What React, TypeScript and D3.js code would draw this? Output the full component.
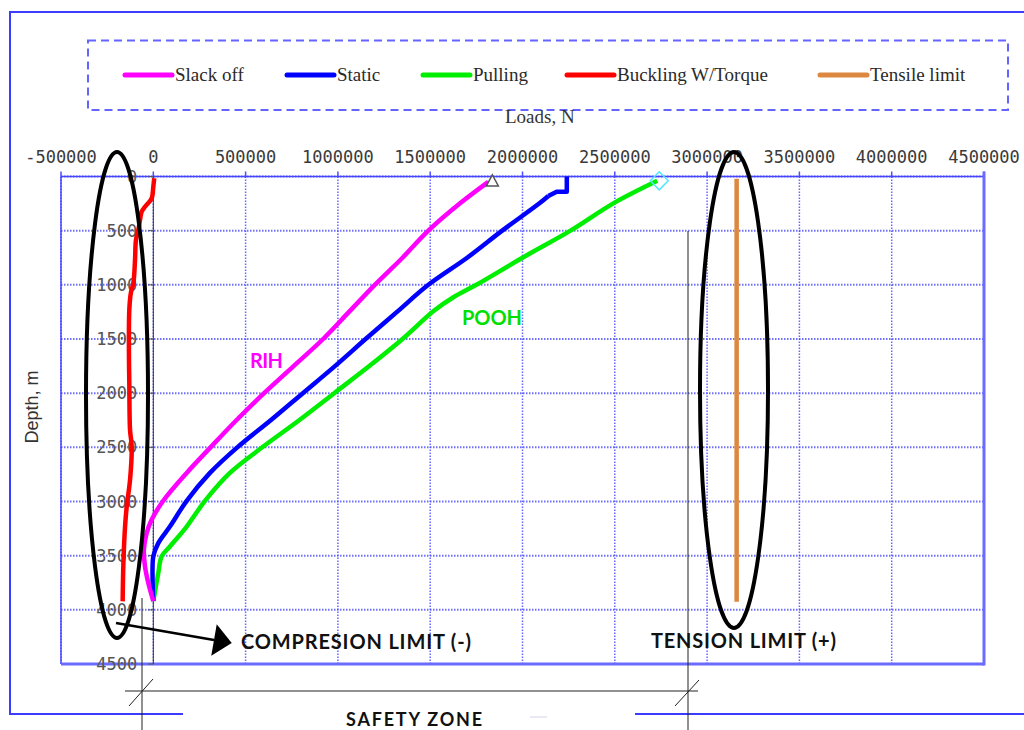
import * as d3 from 'd3'

// [load N, depth m]
const slackOff: [number, number][] = [
  [1815000, 50], [1660000, 250], [1490000, 500], [1350000, 750], [1200000, 1000],
  [1060000, 1250], [920000, 1500], [760000, 1750], [600000, 2000], [450000, 2250],
  [310000, 2500], [181000, 2736], [51000, 3000], [-9000, 3169], [-36000, 3292],
  [-51000, 3445], [-45000, 3600], [-27000, 3753], [0, 3920],
]
const staticLoad: [number, number][] = [
  [2240000, 0], [2240000, 140], [2185000, 140], [2140000, 180], [2090000, 250],
  [1890000, 500], [1700000, 750], [1490000, 1000], [1320000, 1250], [1150000, 1500],
  [984000, 1750], [810000, 2000], [636000, 2250], [455000, 2500], [307000, 2736],
  [181000, 2994], [90000, 3231], [27000, 3384], [0, 3507], [0, 3920],
]
const pulling: [number, number][] = [
  [2730000, 40], [2490000, 250], [2260000, 500], [2000000, 750], [1750000, 1000],
  [1630000, 1110], [1520000, 1240], [1350000, 1500], [1170000, 1750], [980000, 2000],
  [790000, 2250], [590000, 2500], [415000, 2736], [280000, 2994], [181000, 3231],
  [90000, 3415], [45000, 3507], [27000, 3661], [0, 3920],
]
const buckling: [number, number][] = [
  [5000, 17], [0, 94], [-9000, 201], [-45000, 279], [-63000, 325], [-72000, 401],
  [-81000, 494], [-94000, 586], [-99000, 770], [-108000, 985], [-122000, 1078],
  [-130000, 1232], [-132000, 1601], [-130000, 1908], [-126000, 2340], [-117000, 2492],
  [-126000, 2800], [-144000, 3046], [-153000, 3231], [-162000, 3566], [-166000, 3922],
]
const tensile: [number, number][] = [[3160000, 20], [3160000, 3925]]

const X_TICKS = [-500000, 0, 500000, 1000000, 1500000, 2000000, 2500000, 3000000, 3500000, 4000000, 4500000]
const Y_TICKS = [0, 500, 1000, 1500, 2000, 2500, 3000, 3500, 4000, 4500]

const LEGEND = [
  { name: 'Slack off',         color: '#ff00ff', x: 125 },
  { name: 'Static',            color: '#0000ff', x: 287 },
  { name: 'Pulling',           color: '#00ee00', x: 423 },
  { name: 'Buckling W/Torque', color: '#ff0000', x: 567 },
  { name: 'Tensile limit',     color: '#dd8840', x: 820 },
]

const W = 1024
const H = 730
const PLOT = { left: 61, right: 984, top: 176.5, bottom: 664 }
const GRID = '#4d4dff'
const SANS = 'Lato, "Open Sans", sans-serif'
const MONO = '"DejaVu Sans Mono", monospace'
const SERIF = '"Liberation Serif", "DejaVu Serif", serif'

export default function App() {
  const x = d3.scaleLinear().domain([-500000, 4500000]).range([PLOT.left, PLOT.right])
  const y = d3.scaleLinear().domain([0, 4500]).range([PLOT.top, PLOT.bottom])
  const smooth = d3.line<[number, number]>().x(d => x(d[0])).y(d => y(d[1])).curve(d3.curveCatmullRom.alpha(0.5))
  const straight = d3.line<[number, number]>().x(d => x(d[0])).y(d => y(d[1]))

  // static has a little step at the top, keep that part straight
  const series = [
    { d: smooth(buckling),                 color: '#ff0000' },
    { d: straight(tensile),                color: '#dd8840' },
    { d: smooth(pulling),                  color: '#00ee00' },
    { d: straight(staticLoad.slice(0, 4)), color: '#0000ff' },
    { d: smooth(staticLoad.slice(3)),      color: '#0000ff' },
    { d: smooth(slackOff),                 color: '#ff00ff' },
  ]

  const triX = x(slackOff[0][0]) + 4
  const triY = y(slackOff[0][1])
  const diaX = x(pulling[0][0]) + 2
  const diaY = y(pulling[0][1])

  // arrow head for compression annotation
  const ax0 = 116, ay0 = 623, ax1 = 214, ay1 = 640
  const len = Math.hypot(ax1 - ax0, ay1 - ay0)
  const ux = (ax1 - ax0) / len, uy = (ay1 - ay0) / len
  const head = [
    [ax1 - uy * 16, ay1 + ux * 16],
    [ax1 + uy * 16, ay1 - ux * 16],
    [ax1 + ux * 18, ay1 + uy * 18],
  ].map(p => p.join(',')).join(' ')

  return (
    <svg width={W} height={H} style={{ position: 'absolute', left: 0, top: 0, background: '#fff' }}>
      {/* outer frame */}
      <path d={`M183,714 H10 V12 H1030 M635,714 H1030`} fill="none" stroke="#3c3cff" strokeWidth={2} />
      <line x1={530} y1={717} x2={547} y2={717} stroke="#e2e2f2" strokeWidth={1.5} />

      {/* legend */}
      <rect x={88} y={40.5} width={920} height={69.5} fill="none" stroke="#6464ff" strokeWidth={2} strokeDasharray="8,5" />
      {LEGEND.map(l => (
        <g key={l.name}>
          <line x1={l.x} y1={75} x2={l.x + 47} y2={75} stroke={l.color} strokeWidth={5} strokeLinecap="round" />
          <text x={l.x + 50} y={81} fontFamily={SERIF} fontSize={19} fill="#2a2a2a">{l.name}</text>
        </g>
      ))}

      <text x={505} y={123} fontFamily={SERIF} fontSize={19} fill="#333">Loads, N</text>

      {/* grid */}
      {X_TICKS.map(t => (
        <g key={'x' + t}>
          <line x1={x(t)} y1={PLOT.top} x2={x(t)} y2={PLOT.bottom} stroke={GRID} strokeWidth={1.5} strokeDasharray="1.5,1.5" opacity={0.85} />
          <line x1={x(t)} y1={PLOT.top - 5} x2={x(t)} y2={PLOT.top} stroke={GRID} strokeWidth={1.5} />
          <text x={x(t)} y={163} textAnchor="middle" fontFamily={MONO} fontSize={17} fill="#3a3a3a">{t}</text>
        </g>
      ))}
      {Y_TICKS.map(t => (
        <line key={'y' + t} x1={PLOT.left} y1={y(t)} x2={PLOT.right} y2={y(t)} stroke={GRID} strokeWidth={2} strokeDasharray="1.5,1.5" opacity={0.8} />
      ))}

      {/* plot frame */}
      <line x1={PLOT.left} y1={PLOT.top} x2={PLOT.right} y2={PLOT.top} stroke="#4545ff" strokeWidth={1.5} />
      <line x1={PLOT.left} y1={PLOT.top} x2={PLOT.left} y2={PLOT.bottom} stroke="#4545ff" strokeWidth={1.5} />
      <line x1={PLOT.right} y1={PLOT.top - 5} x2={PLOT.right} y2={PLOT.bottom + 1.5} stroke="#6b6bff" strokeWidth={3} />
      <line x1={PLOT.left} y1={PLOT.bottom} x2={PLOT.right} y2={PLOT.bottom} stroke="#6b6bff" strokeWidth={3} />

      {/* depth axis at zero load */}
      <line x1={x(0)} y1={PLOT.top} x2={x(0)} y2={PLOT.bottom} stroke="#333" strokeWidth={1} />
      {Y_TICKS.map(t => (
        <g key={'yl' + t}>
          <line x1={x(0) - 5} y1={y(t)} x2={x(0)} y2={y(t)} stroke="#555" strokeWidth={1} />
          <text x={x(0) - 16} y={y(t) + 6} textAnchor="end" fontFamily={MONO} fontSize={17} fill="#555">{t}</text>
        </g>
      ))}
      <text transform="translate(38,407) rotate(-90)" textAnchor="middle" fontFamily='"Liberation Sans", Arial, sans-serif'
        fontSize={18} fill="#333">Depth, m</text>

      {/* series */}
      {series.map((s, i) => (
        <path key={i} d={s.d || ''} fill="none" stroke={s.color} strokeWidth={4.5} strokeLinejoin="round" />
      ))}
      <path d={`M${triX},${triY - 7} L${triX + 6},${triY + 4} L${triX - 6},${triY + 4} Z`} fill="#fff" stroke="#555" strokeWidth={1.5} />
      <path d={`M${diaX},${diaY - 9} L${diaX + 9},${diaY} L${diaX},${diaY + 9} L${diaX - 9},${diaY} Z`} fill="none" stroke="#55e6ff" strokeWidth={1.5} />

      {/* annotations */}
      <text x={250} y={368} fontFamily={SANS} fontWeight="bold" fontSize={20} fill="#ff00ff" textLength={33}>RIH</text>
      <text x={462} y={325} fontFamily={SANS} fontWeight="bold" fontSize={20} fill="#00e000" textLength={60}>POOH</text>

      <line x1={142} y1={598} x2={142} y2={H} stroke="#222" strokeWidth={1} />
      <line x1={688} y1={231} x2={688} y2={H} stroke="#222" strokeWidth={1} />
      <line x1={125} y1={691} x2={698} y2={691} stroke="#222" strokeWidth={1} />
      <line x1={129} y1={706} x2={153} y2={679} stroke="#222" strokeWidth={1} />
      <line x1={675} y1={706} x2={699} y2={680} stroke="#222" strokeWidth={1} />

      <line x1={ax0} y1={ay0} x2={ax1} y2={ay1} stroke="#000" strokeWidth={2.5} />
      <polygon points={head} fill="#000" />

      <text x={241} y={649} fontFamily={SANS} fontWeight="bold" fontSize={20} fill="#111" textLength={230}>COMPRESION LIMIT (-)</text>
      <text x={651} y={648} fontFamily={SANS} fontWeight="bold" fontSize={20} fill="#111" textLength={185}>TENSION LIMIT (+)</text>
      <text x={346} y={726} fontFamily={SANS} fontWeight="bold" fontSize={18} fill="#111" textLength={136}>SAFETY ZONE</text>

      {/* highlight ellipses */}
      <ellipse cx={117} cy={395} rx={31} ry={243} fill="none" stroke="#000" strokeWidth={4} />
      <ellipse cx={734} cy={390} rx={34} ry={238} fill="none" stroke="#000" strokeWidth={4} />
    </svg>
  )
}
